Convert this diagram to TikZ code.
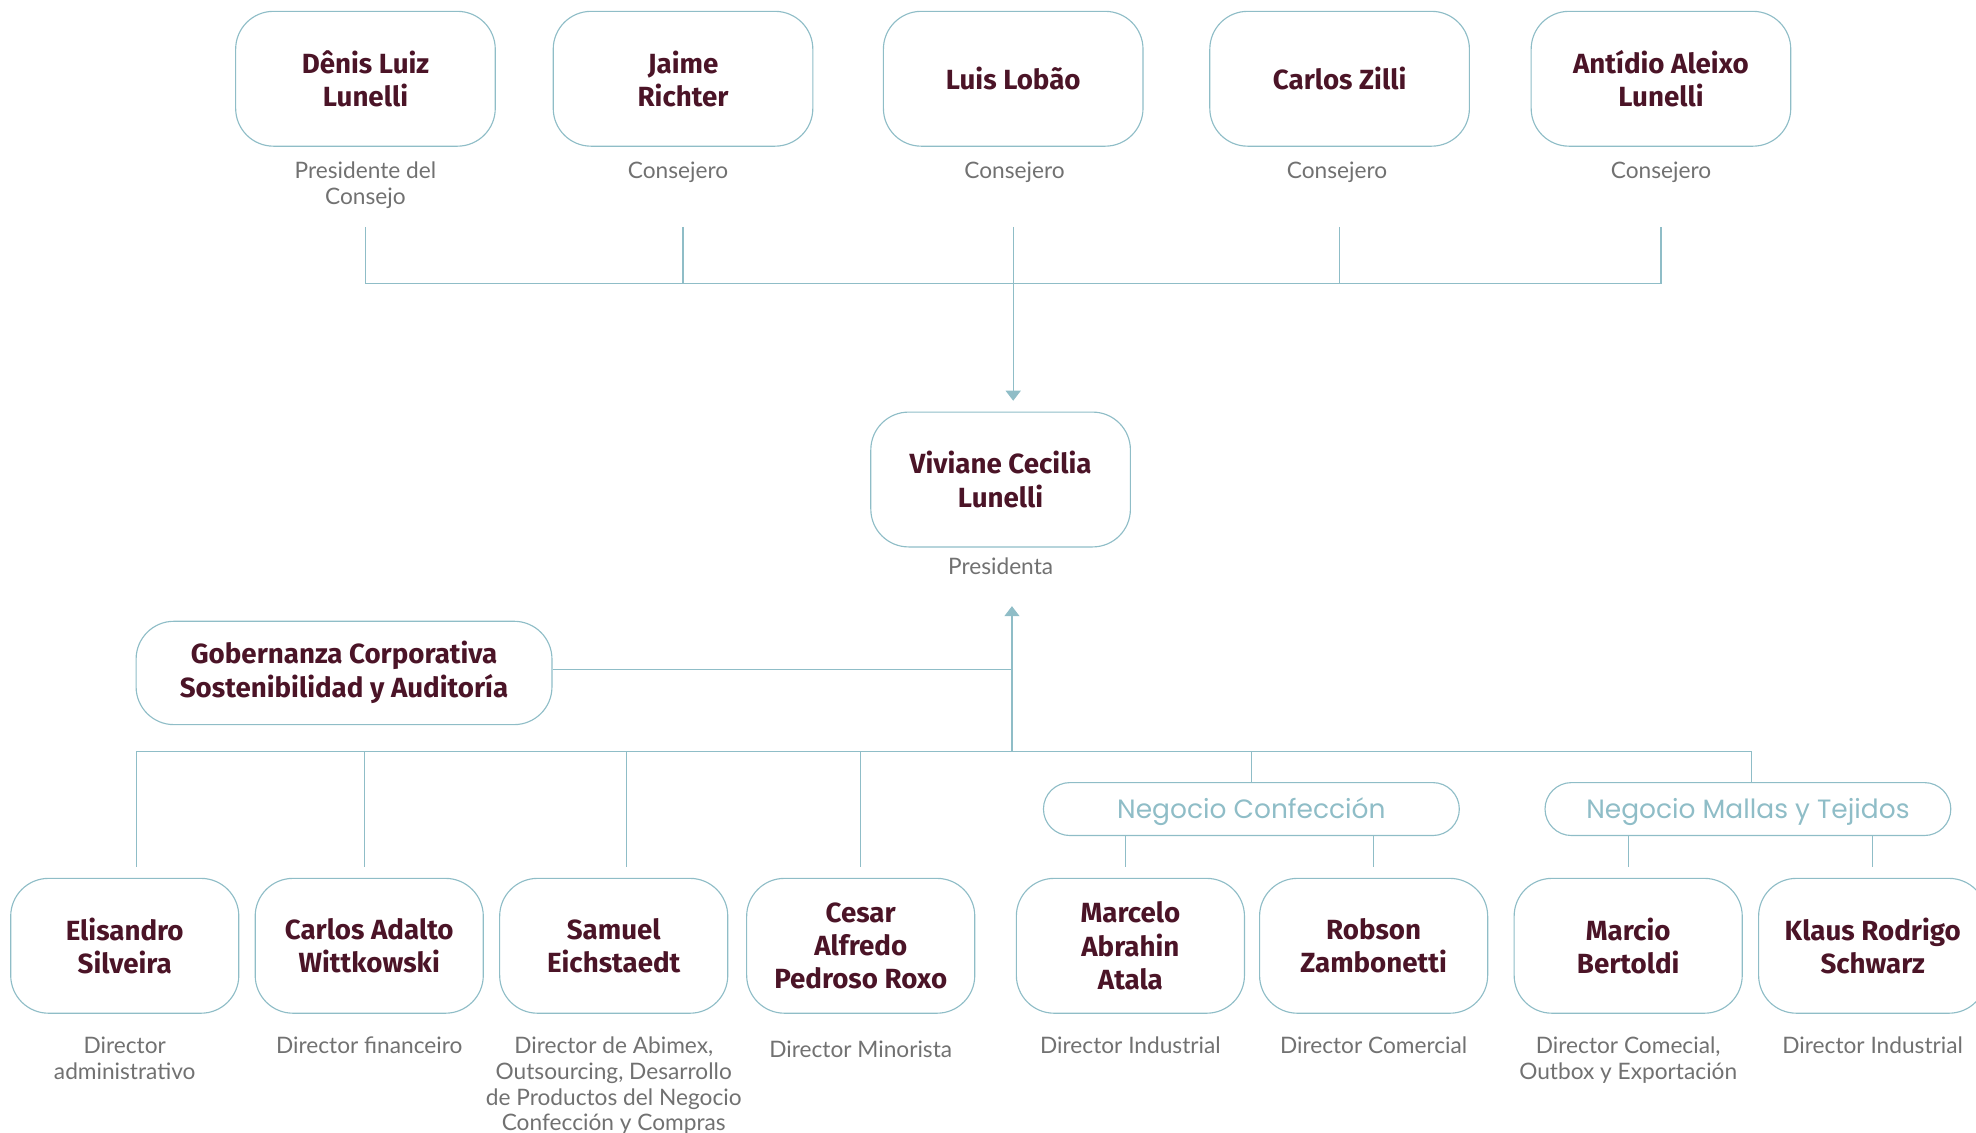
\documentclass[tikz,border=0pt]{standalone}
\usepackage{fontspec}
\setmainfont{Lato}
\newfontfamily\namefont{Fira Sans}
\newfontfamily\negfont{Poppins}
\usetikzlibrary{arrows.meta,calc}
\definecolor{maroon}{HTML}{4B1427}
\definecolor{tealb}{HTML}{8FBDC7}
\definecolor{labgray}{HTML}{717171}
\begin{document}
\begin{tikzpicture}[x=1pt,y=-1pt,
  box/.style={draw=tealb, line width=0.9pt, rounded corners=30pt, align=center,
    text=maroon, font=\namefont\bfseries\fontsize{22}{26.3}\selectfont, inner sep=0pt},
  topbox/.style={box, minimum width=206pt, minimum height=107pt},
  botbox/.style={box, minimum width=181pt, minimum height=107pt},
  lbl/.style={anchor=north, align=center, text=labgray, inner sep=0pt,
    font=\fontsize{18}{20.5}\selectfont},
  negbox/.style={draw=tealb, line width=0.9pt, rounded corners=21pt, minimum height=42pt,
    inner sep=0pt, text height=16.6pt, text depth=1pt, text=tealb,
    font=\negfont\fontsize{21}{26}\selectfont},
  ln/.style={draw=tealb, line width=0.9pt},
  arr/.style={ln, -{Triangle[width=12pt,length=8pt]}}
]
\useasboundingbox (0,0) rectangle (1568,899);

% top row
\node[topbox] (d1) at (290,62.5) {Dênis Luiz\\Lunelli};
\node[topbox] (d2) at (542,62.5) {Jaime\\Richter};
\node[topbox] (d3) at (804,62.5) {Luis Lobão};
\node[topbox] (d4) at (1063,62.5) {Carlos Zilli};
\node[topbox] (d5) at (1318,62.5) {Antídio Aleixo\\Lunelli};

\node[lbl] (l1) at (290,128.5) {Presidente del\\Consejo};
\node[lbl] (l2) at (538,128.5) {Consejero};
\node[lbl] (l3) at (805,128.5) {Consejero};
\node[lbl] (l4) at (1061,128.5) {Consejero};
\node[lbl] (l5) at (1318,128.5) {Consejero};

% president
\node[topbox] (v) at (794,380.5) {Viviane Cecilia\\Lunelli};
\node[lbl] (lv) at (794,442.5) {Presidenta};

% governance
\node[box, minimum width=330pt, minimum height=82pt] (g) at (273,534) {Gobernanza Corporativa\\Sostenibilidad y Auditoría\\[-20.5pt]\mbox{}};

% business units
\node[negbox, minimum width=330pt] (nc) at (993,642) {Negocio Confección};
\node[negbox, minimum width=322pt] (nm) at (1387,642) {Negocio Mallas y Tejidos};

% bottom row
\node[botbox] (e1) at (99,750.5) {Elisandro\\Silveira};
\node[botbox] (e2) at (293,750.5) {Carlos Adalto\\Wittkowski};
\node[botbox] (e3) at (487,750.5) {Samuel\\Eichstaedt};
\node[botbox] (e4) at (683,750.5) {Cesar\\Alfredo\\Pedroso Roxo};
\node[botbox] (e5) at (897,750.5) {Marcelo\\Abrahin\\Atala};
\node[botbox] (e6) at (1090,750.5) {Robson\\Zambonetti};
\node[botbox] (e7) at (1292,750.5) {Marcio\\Bertoldi};
\node[botbox] (e8) at (1486,750.5) {Klaus Rodrigo\\Schwarz};

\node[lbl] (f1) at (99,822.5) {Director\\administrativo};
\node[lbl] (f2) at (293,822.5) {Director financeiro};
\node[lbl] (f3) at (487,822.5) {Director de Abimex,\\Outsourcing, Desarrollo\\de Productos del Negocio\\Confección y Compras};
\node[lbl] (f4) at (683,825.5) {Director Minorista};
\node[lbl] (f5) at (897,822.5) {Director Industrial};
\node[lbl] (f6) at (1090,822.5) {Director Comercial};
\node[lbl] (f7) at (1292,822.5) {Director Comecial,\\Outbox y Exportación};
\node[lbl] (f8) at (1486,822.5) {Director Industrial};

% coordinates
\coordinate (tt) at (0,180);
\coordinate (bt) at (0,225);
\coordinate (va) at (804,318);
\coordinate (pt) at (803,481);
\coordinate (pb) at (803,596);
\coordinate (stub) at (0,688);
\coordinate (k1) at (108,596);
\coordinate (k2) at (289,596);
\coordinate (k3) at (497,596);
\coordinate (k4) at (683,596);
\coordinate (k6) at (1390,596);

% top connectors
\draw[ln] (d1.south |- tt) -- (d1.south |- bt) -- (d5.south |- bt) -- (d5.south |- tt);
\draw[ln] (d2.south |- tt) -- (d2.south |- bt);
\draw[ln] (d4.south |- tt) -- (d4.south |- bt);
\draw[arr] (d3.south |- tt) -- (va);

% lower connectors
\draw[arr] (pb) -- (pt);
\draw[ln] ([yshift=3pt]g.east) -- ([yshift=3pt]g.east -| pb);
\draw[ln] (k1) -- (k6);
\draw[ln] (k1) -- (k1 |- stub);
\draw[ln] (k2) -- (k2 |- stub);
\draw[ln] (k3) -- (k3 |- stub);
\draw[ln] (k4) -- (k4 |- stub);
\draw[ln] (nc.north |- pb) -- (nc.north);
\draw[ln] (k6) -- (k6 |- nm.north);
\draw[ln] ([xshift=-4pt]e5.north |- nc.south) -- ([xshift=-4pt]e5.north |- stub);
\draw[ln] (e6.north |- nc.south) -- (e6.north |- stub);
\draw[ln] (e7.north |- nm.south) -- (e7.north |- stub);
\draw[ln] (e8.north |- nm.south) -- (e8.north |- stub);
\end{tikzpicture}
\end{document}
